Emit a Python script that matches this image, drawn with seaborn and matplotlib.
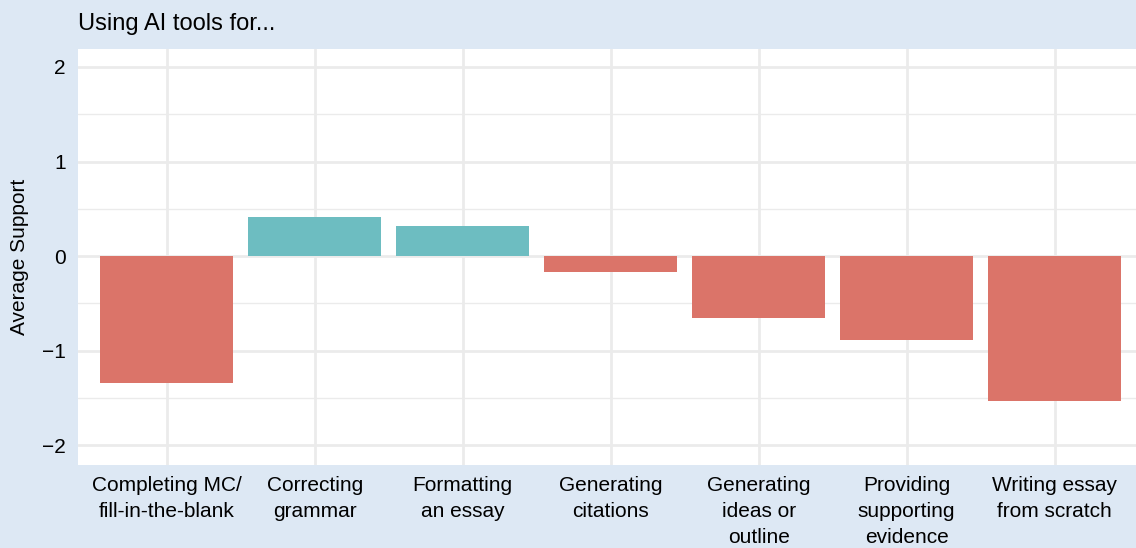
import numpy as np
import pandas as pd
import matplotlib
matplotlib.use("Agg")
import matplotlib.pyplot as plt
from matplotlib.ticker import MultipleLocator, FuncFormatter
import seaborn as sns

# values
tasks = ["Completing MC/\nfill-in-the-blank", "Correcting\ngrammar", "Formatting\nan essay",
         "Generating\ncitations", "Generating\nideas or\noutline", "Providing\nsupporting\nevidence",
         "Writing essay\nfrom scratch"]
support = [-1.34, 0.41, 0.32, -0.17, -0.66, -0.89, -1.53]

df = pd.DataFrame({"task": tasks, "support": support})
df["sign"] = np.where(df["support"] >= 0, "pos", "neg")

bg = "#DDE8F4"
palette = {"pos": "#6DBDC1", "neg": "#DB7469"}

sns.set_theme(style="white")
plt.rcParams["font.family"] = ["Liberation Sans", "DejaVu Sans"]
plt.rcParams["text.color"] = "black"

fig = plt.figure(figsize=(11.36, 5.48), dpi=100, facecolor=bg)
W, H = 1136, 548
ax = fig.add_axes([78 / W, (H - 465) / H, (1136 - 78) / W, (465 - 49) / H])
ax.set_facecolor("white")

sns.barplot(data=df, x="task", y="support", hue="sign", palette=palette, saturation=1,
            width=0.9, dodge=False, legend=False, linewidth=0, ax=ax, zorder=3)

ax.set_ylim(-2.21, 2.19)
ax.set_xlim(-0.6, 6.55)
ax.yaxis.set_major_locator(MultipleLocator(1))
ax.yaxis.set_minor_locator(MultipleLocator(0.5))
ax.grid(which="major", color="#EBEBEB", linewidth=2.0, zorder=0)
ax.grid(which="minor", axis="y", color="#EBEBEB", linewidth=1.0, zorder=0)
ax.set_axisbelow(True)
for s in ax.spines.values():
    s.set_visible(False)

ax.tick_params(axis="both", which="both", length=0, labelsize=15, colors="black")
ax.tick_params(axis="x", pad=8)
ax.tick_params(axis="y", pad=9)
ax.yaxis.set_major_formatter(FuncFormatter(lambda v, p: f"{int(round(v))}".replace("-", "\u2212")))
for lab in ax.get_xticklabels():
    lab.set_linespacing(1.45)

ax.set_xlabel("")
ax.set_ylabel("Average Support", fontsize=15, color="black")
ax.yaxis.set_label_coords(-49 / (1136 - 78), 0.5)

fig.text(78 / W, 1 - 24 / H, "Using AI tools for...", fontsize=17, ha="left", va="center")

fig.savefig("out.png", dpi=100, facecolor=bg)
